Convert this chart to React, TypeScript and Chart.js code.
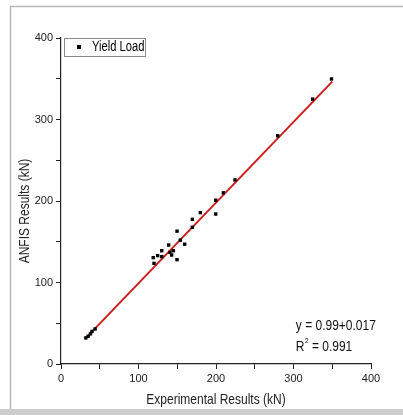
import React, { useEffect, useRef } from "react";
import { Chart, registerables } from "chart.js";

Chart.register(...registerables);

// Experimental (x) vs ANFIS (y) yield load results, kN
const expResults = [32, 35, 38, 40, 44, 119, 120, 124.7, 130, 130, 139, 140.6, 142.8, 145, 149.7, 149.7, 154, 159.6, 169.5, 169.5, 179.8, 199.6, 199.6, 209.5, 224.5, 279.6, 324.7, 349];
const anfisResults = [32, 34, 37, 40, 43, 130.5, 123.5, 133, 139, 131.7, 146, 137, 133.7, 139, 163, 128, 152, 147, 177.5, 167.7, 185.7, 201, 184, 210, 225.8, 280, 325, 349.7];

// Linear fit line end points
const fitX = [32, 350];
const fitY = [31.7, 346.5];

const seriesLabel = "Yield Load";
const xTitle = "Experimental Results (kN)";
const yTitle = "ANFIS Results (kN)";
const fitEquation = "y = 0.99+0.017";
const fitR2Value = " = 0.991";

const FONT = "'Liberation Sans', Arial, sans-serif";
const SQ = 0.8; // horizontal condensing of text

function condensedText(ctx: CanvasRenderingContext2D, text: string, x: number, y: number, align: "left" | "center") {
  ctx.save();
  ctx.translate(x, y);
  ctx.scale(SQ, 1);
  ctx.textAlign = align;
  ctx.fillText(text, 0, 0);
  ctx.restore();
}

export default function App() {
  const ref = useRef<HTMLCanvasElement | null>(null);

  useEffect(() => {
    const canvas = ref.current;
    if (!canvas) return;

    const framePlugin = {
      id: "frame",
      beforeDraw(chart: any) {
        const ctx = chart.ctx;
        ctx.save();
        ctx.fillStyle = "#ffffff";
        ctx.fillRect(0, 0, chart.width, chart.height);
        ctx.strokeStyle = "#b8b8b8";
        ctx.lineWidth = 1.5;
        ctx.beginPath();
        ctx.moveTo(10.5, 409);
        ctx.lineTo(10.5, 6.5);
        ctx.lineTo(chart.width, 6.5);
        ctx.stroke();
        ctx.fillStyle = "#cdcdcd";
        ctx.fillRect(0, 409, chart.width, chart.height - 409);
        ctx.restore();
      },
      afterDraw(chart: any) {
        const ctx = chart.ctx;
        const xs = chart.scales.x;
        const ys = chart.scales.y;
        const area = chart.chartArea;
        ctx.save();
        ctx.fillStyle = "#222";
        // axis titles
        ctx.font = `15px ${FONT}`;
        ctx.textBaseline = "middle";
        condensedText(ctx, xTitle, (area.left + area.right) / 2, 400, "center");
        ctx.save();
        ctx.translate(25, 211);
        ctx.rotate(-Math.PI / 2);
        condensedText(ctx, yTitle, 0, 0, "center");
        ctx.restore();
        // legend box
        const lx = Math.round(xs.getPixelForValue(4));
        const ly = Math.round(ys.getPixelForValue(400));
        ctx.strokeStyle = "#8a8a8a";
        ctx.lineWidth = 1;
        ctx.strokeRect(lx + 0.5, ly + 0.5, 81, 18);
        ctx.fillStyle = "#000";
        ctx.fillRect(lx + 13, ly + 7, 4, 4);
        ctx.font = `14px ${FONT}`;
        ctx.textBaseline = "middle";
        condensedText(ctx, seriesLabel, lx + 28, ly + 9.5, "left");
        // fit annotation
        const ax = xs.getPixelForValue(303);
        ctx.font = `15px ${FONT}`;
        ctx.textBaseline = "alphabetic";
        ctx.fillStyle = "#111";
        condensedText(ctx, fitEquation, ax, ys.getPixelForValue(42), "left");
        const ry = ys.getPixelForValue(16);
        condensedText(ctx, "R", ax, ry, "left");
        const rw = ctx.measureText("R").width * SQ;
        ctx.font = `8px ${FONT}`;
        condensedText(ctx, "2", ax + rw + 0.5, ry - 8, "left");
        const sw = ctx.measureText("2").width * SQ;
        ctx.font = `15px ${FONT}`;
        condensedText(ctx, fitR2Value, ax + rw + sw + 0.5, ry, "left");
        ctx.restore();
      },
    };

    const chart = new Chart(canvas, {
      type: "scatter",
      data: {
        datasets: [
          {
            type: "line",
            label: "Linear Fit",
            data: fitX.map((x, i) => ({ x, y: fitY[i] })),
            borderColor: "#c8201e",
            borderWidth: 2,
            pointRadius: 0,
            fill: false,
            order: 2,
          } as any,
          {
            label: seriesLabel,
            data: expResults.map((x, i) => ({ x, y: anfisResults[i] })),
            backgroundColor: "#000",
            borderColor: "#000",
            pointStyle: "rect",
            pointRadius: 2.4,
            borderWidth: 0,
            order: 1,
          },
        ],
      },
      plugins: [framePlugin],
      options: {
        responsive: false,
        animation: false,
        layout: { padding: { left: 0, right: 32, top: 38, bottom: 0 } },
        plugins: { legend: { display: false }, tooltip: { enabled: false } },
        scales: {
          x: {
            type: "linear",
            min: 0,
            max: 400,
            afterFit: (s: any) => {
              s.height = 51;
            },
            ticks: {
              stepSize: 50,
              autoSkip: false,
              maxRotation: 0,
              padding: 3,
              color: "#222",
              font: { family: FONT, size: 11 },
              callback: (v: any) => (Number(v) % 100 === 0 ? String(v) : ""),
            },
            grid: { drawOnChartArea: false, tickLength: 5, color: "#222", tickWidth: 1 },
            border: { color: "#222", width: 1.2 },
          },
          y: {
            type: "linear",
            min: 0,
            max: 400,
            afterFit: (s: any) => {
              s.width = 61;
            },
            ticks: {
              stepSize: 50,
              autoSkip: false,
              padding: 3,
              color: "#222",
              font: { family: FONT, size: 11 },
              callback: (v: any) => (Number(v) % 100 === 0 ? String(v) : ""),
            },
            grid: { drawOnChartArea: false, tickLength: 5, color: "#222", tickWidth: 1 },
            border: { color: "#222", width: 1.2 },
          },
        },
      },
    });

    return () => chart.destroy();
  }, []);

  return (
    <div style={{ position: "fixed", left: 0, top: 0, width: 403, height: 415 }}>
      <canvas ref={ref} width={403} height={415} style={{ display: "block" }} />
    </div>
  );
}
